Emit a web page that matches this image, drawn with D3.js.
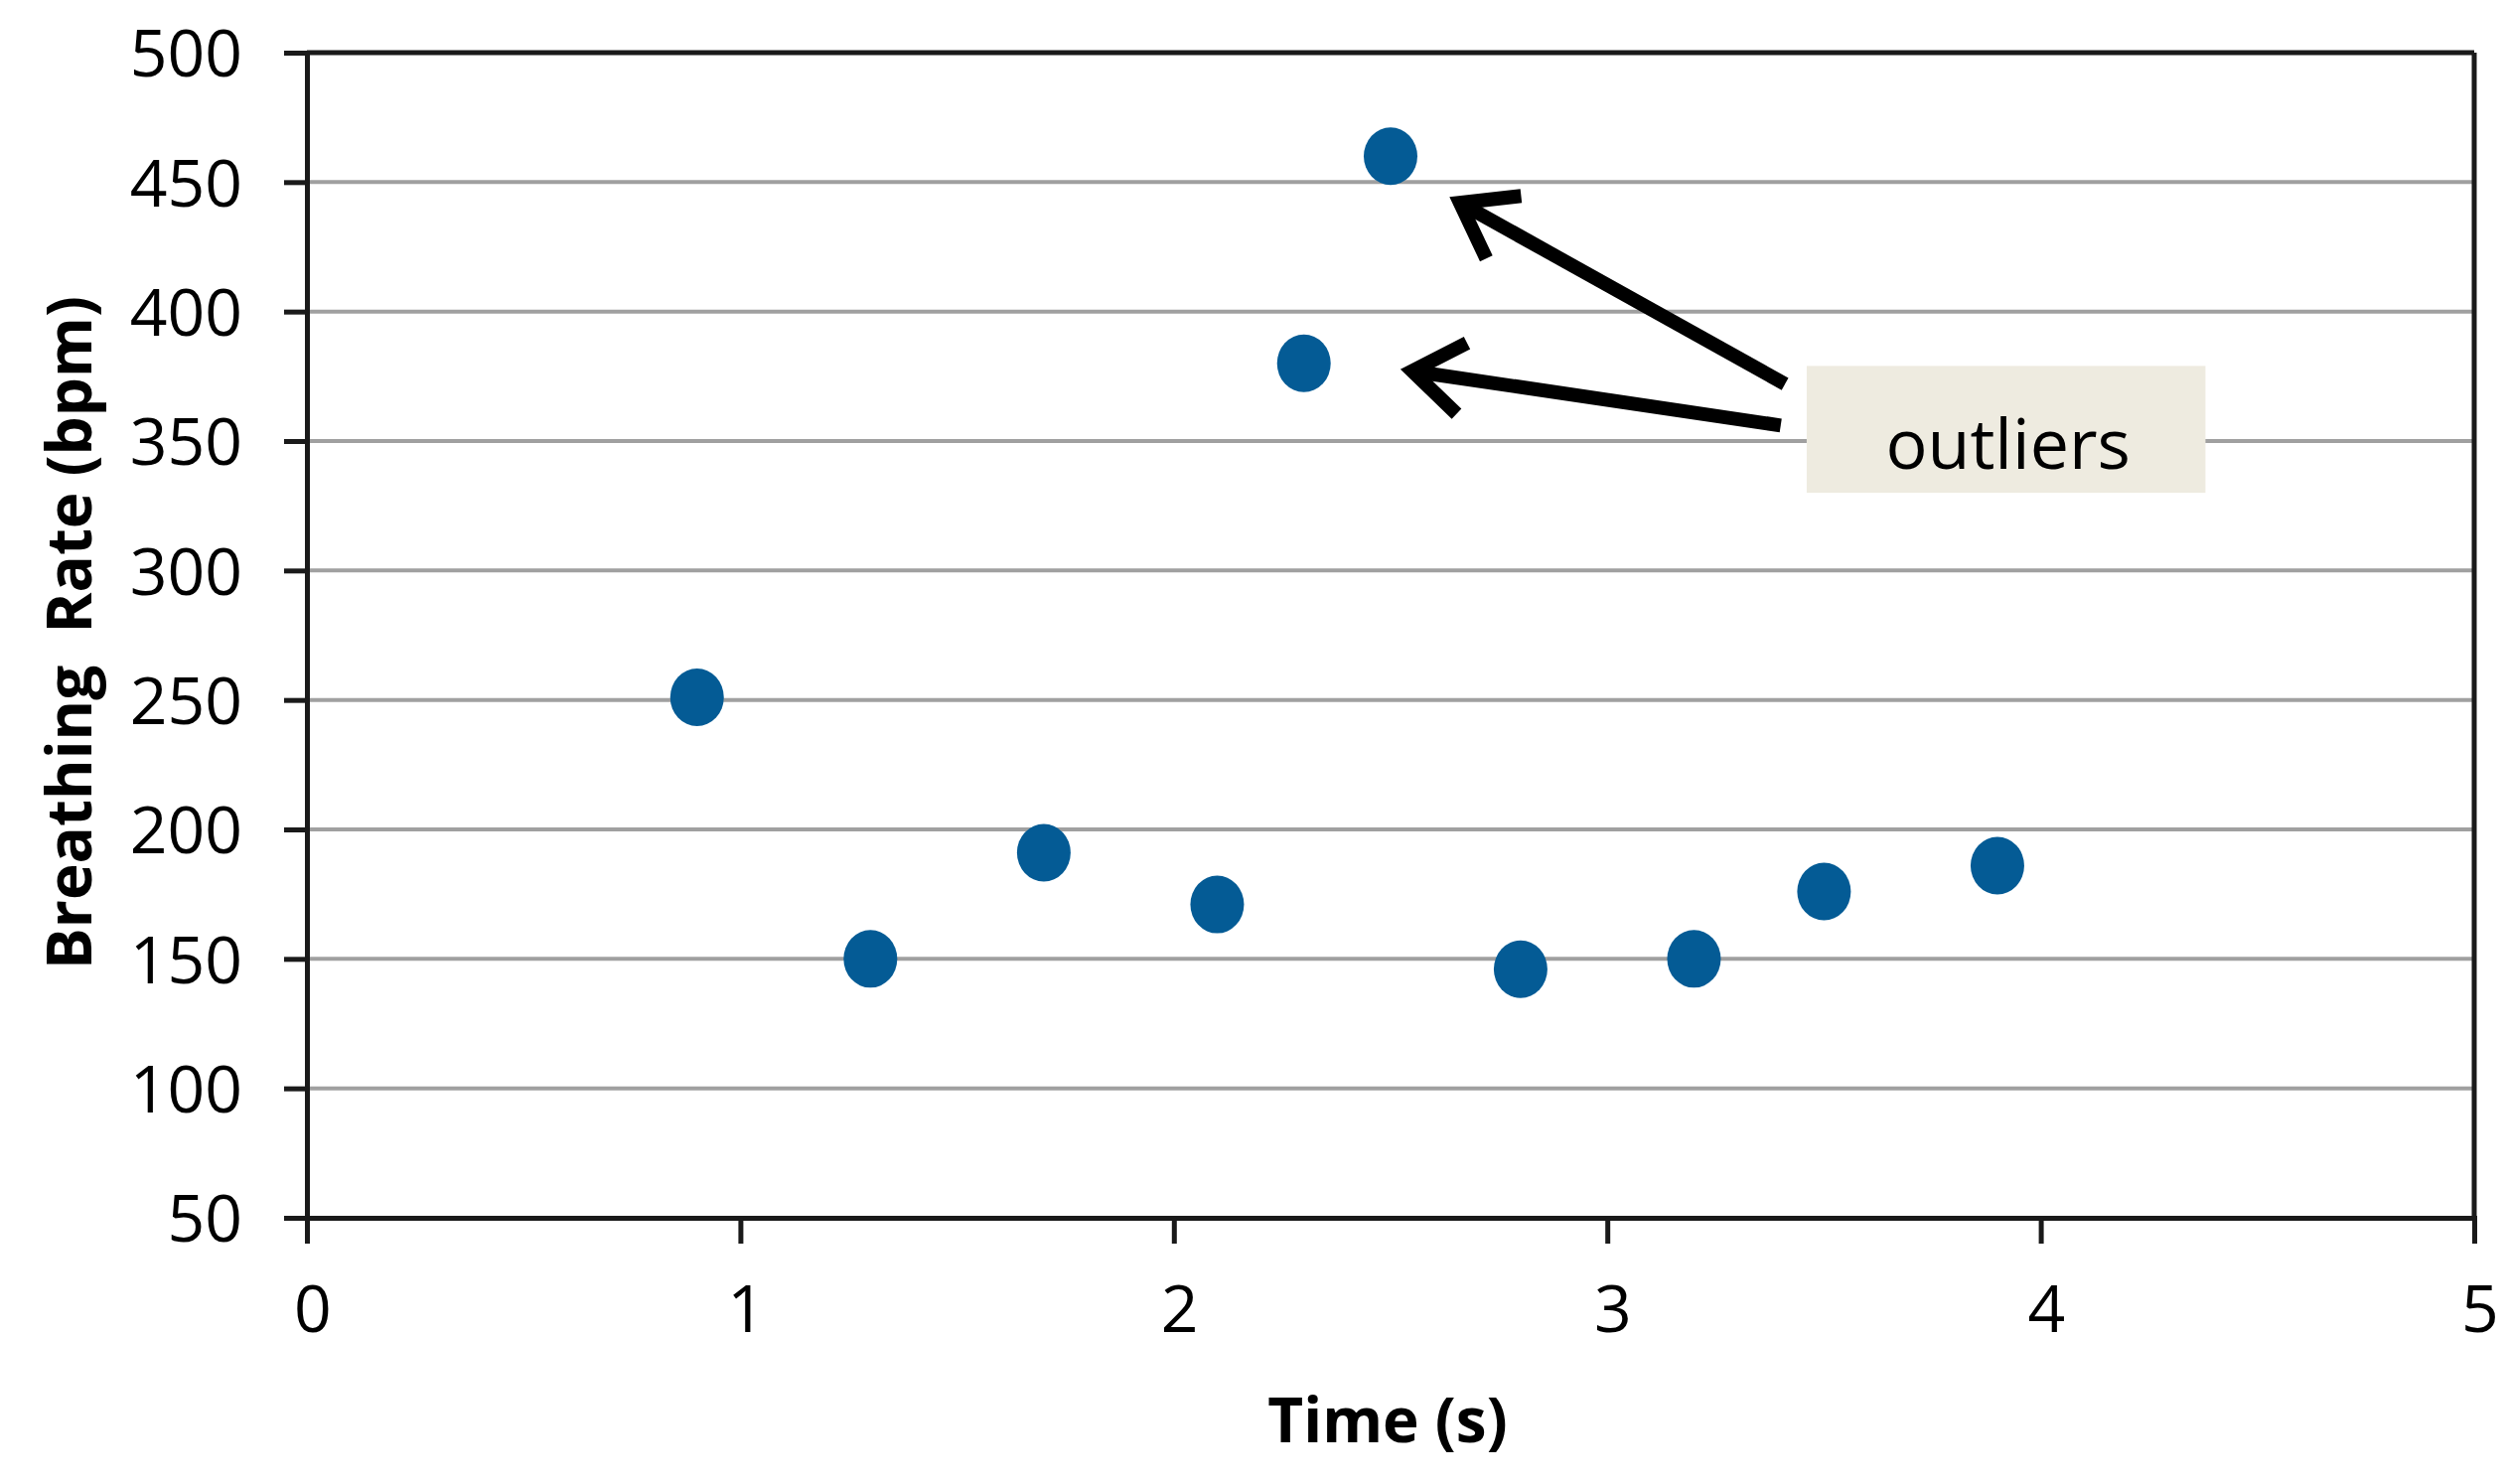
<!DOCTYPE html>
<html>
<head>
<meta charset="utf-8">
<script src="https://cdn.jsdelivr.net/npm/d3@7"></script>
<style>
  html, body { margin: 0; padding: 0; background: #ffffff; }
  svg { display: block; }
  text { font-family: "Open Sans", "Noto Sans", sans-serif; fill: #000; }
</style>
</head>
<body>
<svg id="chart" width="2523" height="1494"></svg>
<script>
// ---- data ----
const timeValues = [0.9, 1.3, 1.7, 2.1, 2.3, 2.5, 2.8, 3.2, 3.5, 3.9];
const rateValues = [251, 150, 191, 171, 380, 460, 146, 150, 176, 186];
const xTicks = [0, 1, 2, 3, 4, 5];
const yTicks = [50, 100, 150, 200, 250, 300, 350, 400, 450, 500];
const xLabel = "Time (s)";
const yLabel = "Breathing  Rate (bpm)";
const noteText = "outliers";
// annotation arrows (tail -> tip) in data units
const arrowTailX = [3.41, 3.40];
const arrowTailY = [372, 356];
const arrowTipX = [2.66, 2.55];
const arrowTipY = [442, 377];
// annotation box extent in data units
const noteBoxX = [3.46, 4.38];
const noteBoxY = [330, 379];

// ---- layout ----
const plotL = 309, plotR = 2491, plotT = 53, plotB = 1226;
const svg = d3.select("#chart");
const x = d3.scaleLinear().domain([0, 5]).range([plotL, plotR]);
const y = d3.scaleLinear().domain([50, 500]).range([plotB, plotT]);

// gridlines
svg.append("g").selectAll("line").data(yTicks.filter(d => d > 50 && d < 500)).join("line")
  .attr("x1", plotL).attr("x2", plotR)
  .attr("y1", d => y(d)).attr("y2", d => y(d))
  .attr("stroke", "#a0a0a0").attr("stroke-width", 4);

// plot border (top and right)
svg.append("line").attr("x1", plotL).attr("x2", plotR).attr("y1", plotT).attr("y2", plotT)
  .attr("stroke", "#1a1a1a").attr("stroke-width", 5);
svg.append("line").attr("x1", plotR).attr("x2", plotR).attr("y1", plotT).attr("y2", plotB)
  .attr("stroke", "#1a1a1a").attr("stroke-width", 5);

// y axis
const yAxis = d3.axisLeft(y).tickValues(yTicks).tickSize(23).tickPadding(42).tickFormat(d3.format("d"));
const gy = svg.append("g").attr("transform", `translate(${plotL},0)`).call(yAxis);
gy.select(".domain").attr("stroke", "#1a1a1a").attr("stroke-width", 5);
gy.selectAll(".tick line").attr("stroke", "#1a1a1a").attr("stroke-width", 5);
gy.selectAll(".tick text").attr("font-size", 66).attr("font-family", "'Open Sans', sans-serif")
  .attr("fill", "#000").attr("dy", "0.36em");

// x axis
const xAxis = d3.axisBottom(x).tickValues(xTicks).tickSize(26).tickPadding(42).tickFormat(d3.format("d"));
const gx = svg.append("g").attr("transform", `translate(0,${plotB})`).call(xAxis);
gx.select(".domain").attr("stroke", "#1a1a1a").attr("stroke-width", 5);
gx.selectAll(".tick line").attr("stroke", "#1a1a1a").attr("stroke-width", 5);
gx.selectAll(".tick text").attr("font-size", 66).attr("font-family", "'Open Sans', sans-serif")
  .attr("fill", "#000").attr("dx", "0.08em");

// axis titles
svg.append("text").attr("x", 1397).attr("y", 1452)
  .attr("text-anchor", "middle").attr("font-size", 62).attr("font-weight", "bold")
  .text(xLabel);
svg.append("text").attr("transform", "translate(92,637) rotate(-90)")
  .attr("text-anchor", "middle").attr("font-size", 62).attr("font-weight", "bold")
  .style("white-space", "pre")
  .text(yLabel);

// points
svg.append("g").selectAll("ellipse").data(timeValues.map((t, i) => [t, rateValues[i]])).join("ellipse")
  .attr("cx", d => x(d[0])).attr("cy", d => y(d[1]))
  .attr("rx", 27).attr("ry", 29)
  .attr("fill", "#045b95");

// note box
svg.append("rect")
  .attr("x", x(noteBoxX[0])).attr("y", y(noteBoxY[1]))
  .attr("width", x(noteBoxX[1]) - x(noteBoxX[0]))
  .attr("height", y(noteBoxY[0]) - y(noteBoxY[1]))
  .attr("fill", "#eeebe0");
svg.append("text")
  .attr("x", (x(noteBoxX[0]) + x(noteBoxX[1])) / 2 + 2)
  .attr("y", (y(noteBoxY[0]) + y(noteBoxY[1])) / 2 + 40)
  .attr("text-anchor", "middle").attr("font-size", 70)
  .text(noteText);

// arrows
const arrows = arrowTailX.map((d, i) => ({
  x1: x(d), y1: y(arrowTailY[i]), x2: x(arrowTipX[i]), y2: y(arrowTipY[i])
}));
const ag = svg.append("g");
arrows.forEach(a => {
  const ang = Math.atan2(a.y1 - a.y2, a.x1 - a.x2);
  const L = 62, spread = 0.62;
  const p1 = [a.x2 + L * Math.cos(ang - spread), a.y2 + L * Math.sin(ang - spread)];
  const p2 = [a.x2 + L * Math.cos(ang + spread), a.y2 + L * Math.sin(ang + spread)];
  ag.append("line").attr("x1", a.x1).attr("y1", a.y1).attr("x2", a.x2 + 4 * Math.cos(ang)).attr("y2", a.y2 + 4 * Math.sin(ang))
    .attr("stroke", "#000").attr("stroke-width", 14);
  ag.append("path")
    .attr("d", `M${p1[0]},${p1[1]} L${a.x2},${a.y2} L${p2[0]},${p2[1]}`)
    .attr("fill", "none").attr("stroke", "#000").attr("stroke-width", 14)
    .attr("stroke-linejoin", "miter").attr("stroke-linecap", "butt");
});
</script>
</body>
</html>
